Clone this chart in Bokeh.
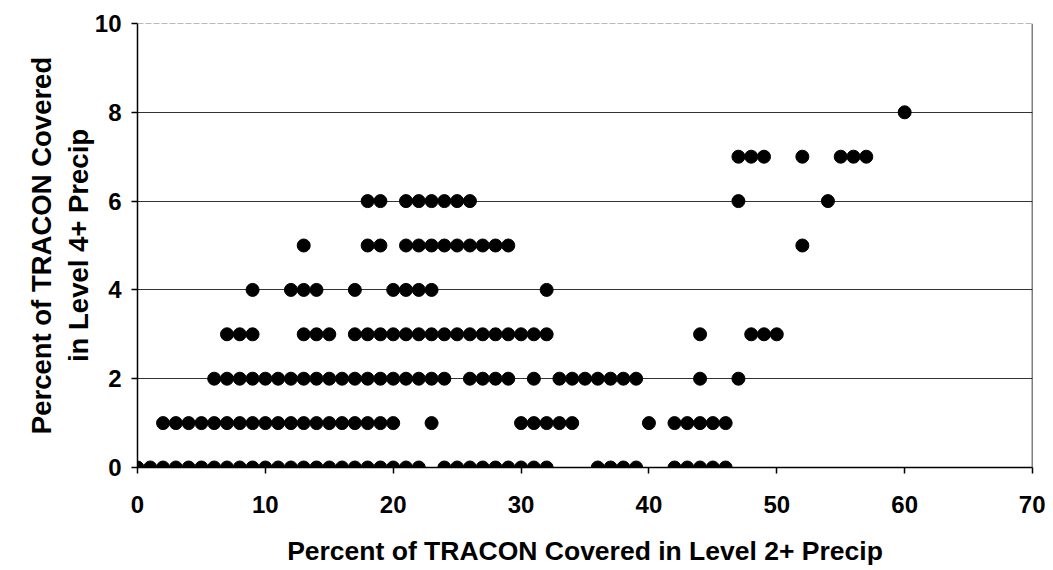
from bokeh.plotting import figure
from bokeh.models import ColumnDataSource, Range1d, FixedTicker, Span
from bokeh.embed import file_html
from bokeh.resources import INLINE

# Data: points grouped by y level (Percent Level 4+)
x_y0 = list(range(0, 23)) + list(range(24, 33)) + [36, 37, 38, 39] + [42, 43, 44, 45, 46]
x_y1 = list(range(2, 21)) + [23] + [30, 31, 32, 33, 34] + [40] + [42, 43, 44, 45, 46]
x_y2 = list(range(6, 25)) + [26, 27, 28, 29] + [31] + list(range(33, 40)) + [44, 47]
x_y3 = [7, 8, 9, 13, 14, 15] + list(range(17, 33)) + [44, 48, 49, 50]
x_y4 = [9, 12, 13, 14, 17, 20, 21, 22, 23, 32]
x_y5 = [13, 18, 19] + list(range(21, 30)) + [52]
x_y6 = [18, 19] + list(range(21, 27)) + [47, 54]
x_y7 = [47, 48, 49, 52, 55, 56, 57]
x_y8 = [60]

x_ticks = [0, 10, 20, 30, 40, 50, 60, 70]
y_ticks = [0, 2, 4, 6, 8, 10]

levels = [(0, x_y0), (1, x_y1), (2, x_y2), (3, x_y3), (4, x_y4),
          (5, x_y5), (6, x_y6), (7, x_y7), (8, x_y8)]
xs, ys = [], []
for yv, xl in levels:
    xs += xl
    ys += [yv] * len(xl)

src = ColumnDataSource(data=dict(x=xs, y=ys))

p = figure(width=1045, height=570, output_backend="svg", toolbar_location=None,
           x_range=Range1d(0, 70), y_range=Range1d(0, 10),
           min_border_left=137, min_border_right=13, min_border_top=23, min_border_bottom=103)
p.outline_line_color = None
p.background_fill_color = "white"

p.xgrid.grid_line_color = None
p.ygrid.ticker = FixedTicker(ticks=[2, 4, 6, 8])
p.ygrid.grid_line_color = "#333333"
p.ygrid.grid_line_width = 1

p.xaxis.ticker = FixedTicker(ticks=x_ticks)
p.yaxis.ticker = FixedTicker(ticks=y_ticks)

for ax in (p.xaxis, p.yaxis):
    ax.axis_line_color = "black"
    ax.axis_line_width = 1.5
    ax.major_tick_line_color = "black"
    ax.major_tick_line_width = 1.5
    ax.major_tick_out = 6
    ax.major_tick_in = 0
    ax.minor_tick_line_color = None
    ax.major_label_text_font = "Liberation Sans"
    ax.major_label_text_font_style = "bold"
    ax.major_label_text_font_size = "24px"
    ax.major_label_text_color = "black"
    ax.axis_label_text_font = "Liberation Sans"
    ax.axis_label_text_font_style = "bold"
    ax.axis_label_text_font_size = "26.5px"
    ax.axis_label_text_color = "black"

p.yaxis.axis_label_text_font_size = "27.5px"
p.xaxis.axis_label = "Percent of TRACON Covered in Level 2+ Precip"
p.yaxis.axis_label = "Percent of TRACON Covered\nin Level 4+ Precip"
p.xaxis.major_label_standoff = 22
p.xaxis.axis_label_standoff = 20
p.yaxis.major_label_standoff = 10
p.yaxis.axis_label_standoff = -2

p.add_layout(Span(location=70, dimension="height", line_color="black", line_width=1.5))
p.add_layout(Span(location=10, dimension="width", line_color="#777777", line_width=1, line_dash="6 2"))

p.scatter("x", "y", source=src, size=13, fill_color="black", line_color="black")

open("out.html", "w").write(file_html(p, INLINE))
